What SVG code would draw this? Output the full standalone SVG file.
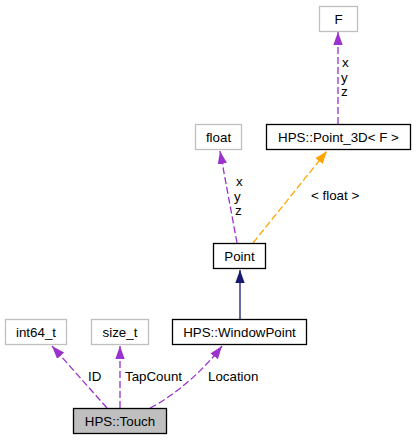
<svg xmlns="http://www.w3.org/2000/svg" width="416" height="440" viewBox="0 0 416 440">
<style>
text{font-family:"Liberation Sans",Arial,sans-serif;font-size:13.33px;fill:#000}
.n text{text-anchor:middle}
.box{fill:#fff;stroke:#000;stroke-width:1.3}
.ext{fill:#fff;stroke:#bfbfbf;stroke-width:1.3}
.cur{fill:#bfbfbf;stroke:#000;stroke-width:1.3}
.dp{fill:none;stroke:#9a32cd;stroke-width:1.3;stroke-dasharray:7,3;marker-end:url(#ap)}
.do{fill:none;stroke:#ffa500;stroke-width:1.3;stroke-dasharray:7,3;marker-end:url(#ao)}
.sn{fill:none;stroke:#191970;stroke-width:1.3;marker-end:url(#an)}
</style>
<defs>
<marker id="ap" markerUnits="userSpaceOnUse" markerWidth="14" markerHeight="10" refX="13" refY="4.7" orient="auto"><path d="M0,0 L13,4.7 L0,9.4 z" fill="#9a32cd"/></marker>
<marker id="ao" markerUnits="userSpaceOnUse" markerWidth="14" markerHeight="10" refX="13" refY="4.7" orient="auto"><path d="M0,0 L13,4.7 L0,9.4 z" fill="#ffa500"/></marker>
<marker id="an" markerUnits="userSpaceOnUse" markerWidth="14" markerHeight="10" refX="13" refY="4.7" orient="auto"><path d="M0,0 L13,4.7 L0,9.4 z" fill="#191970"/></marker>
</defs>
<g id="edges">
<path class="dp" d="M107,408 L52,346"/>
<path class="dp" d="M120,408 L120,346"/>
<path class="dp" d="M150,408 C170,398 200,375 222,346"/>
<path class="sn" d="M240,319 L240,270"/>
<path class="dp" d="M237,243 L220,151"/>
<path class="do" d="M253,243 L327,151"/>
<path class="dp" d="M338,124 L338,32"/>
<text x="88" y="381">ID</text>
<text x="125" y="381">TapCount</text>
<text x="208" y="381">Location</text>
<text x="236" y="186">x</text>
<text x="234" y="201">y</text>
<text x="235" y="215">z</text>
<text x="311" y="200">&lt; float &gt;</text>
<text x="342" y="67">x</text>
<text x="341" y="82">y</text>
<text x="341" y="96">z</text>
</g>
<g id="F" class="n"><rect class="ext" x="319.5" y="6.5" width="38" height="25"/><text x="338.5" y="23.5">F</text></g>
<g id="Point_3D" class="n"><rect class="box" x="266.5" y="124.5" width="144" height="25"/><text x="338.5" y="141.5">HPS::Point_3D&lt; F &gt;</text></g>
<g id="float" class="n"><rect class="ext" x="195.5" y="124.5" width="46" height="25"/><text x="218.5" y="141.5">float</text></g>
<g id="Point" class="n"><rect class="box" x="213.5" y="243.5" width="52" height="25"/><text x="239.5" y="260.5">Point</text></g>
<g id="WindowPoint" class="n"><rect class="box" x="172.5" y="319.5" width="134" height="25"/><text x="239.5" y="336.5">HPS::WindowPoint</text></g>
<g id="int64_t" class="n"><rect class="ext" x="5.5" y="319.5" width="61" height="25"/><text x="36" y="336.5">int64_t</text></g>
<g id="size_t" class="n"><rect class="ext" x="91.5" y="319.5" width="57" height="25"/><text x="120" y="336.5">size_t</text></g>
<g id="Touch" class="n"><rect class="cur" x="73.5" y="408.5" width="93" height="25"/><text x="120" y="425.5">HPS::Touch</text></g>
</svg>
